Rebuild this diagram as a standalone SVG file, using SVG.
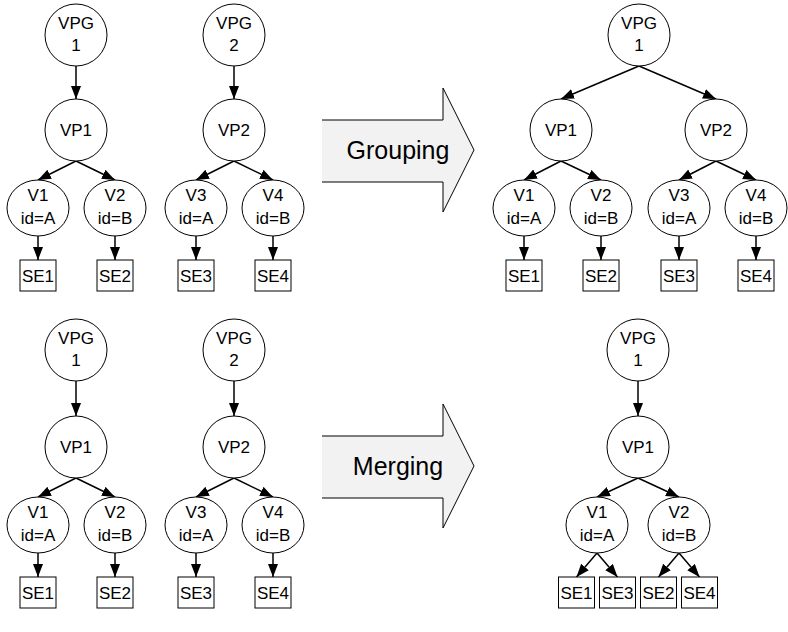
<svg xmlns="http://www.w3.org/2000/svg" width="788" height="632" viewBox="0 0 788 632">
<style>
.n{fill:#fff;stroke:#000;stroke-width:1}
.t{font-family:"Liberation Sans",Arial,sans-serif;font-size:17px;fill:#000;text-anchor:middle}
.big{font-family:"Liberation Sans",Arial,sans-serif;font-size:25px;fill:#000;text-anchor:middle}
.e{fill:none;stroke:#000;stroke-width:1.5;marker-end:url(#ah)}
.af{fill:#f2f2f2;stroke:none}
.as{fill:none;stroke:#000;stroke-width:1}
</style>
<defs>
<marker id="ah" markerUnits="userSpaceOnUse" markerWidth="14" markerHeight="11" refX="13" refY="5" orient="auto">
<path d="M0,0 L13,5 L0,10 z" fill="#000"/>
</marker>
</defs>
<rect width="788" height="632" fill="#fff"/>

<g id="connectors">
<!-- top-left tree 1 -->
<line class="e" x1="76" y1="66" x2="76" y2="99"/>
<line class="e" x1="76" y1="161" x2="38" y2="180"/>
<line class="e" x1="76" y1="161" x2="115" y2="180"/>
<line class="e" x1="38" y1="236" x2="38" y2="260"/>
<line class="e" x1="115" y1="236" x2="115" y2="260"/>
<!-- top-left tree 2 -->
<line class="e" x1="234" y1="66" x2="234" y2="99"/>
<line class="e" x1="234" y1="161" x2="196" y2="180"/>
<line class="e" x1="234" y1="161" x2="273" y2="180"/>
<line class="e" x1="196" y1="236" x2="196" y2="260"/>
<line class="e" x1="273" y1="236" x2="273" y2="260"/>
<!-- top-right grouped -->
<line class="e" x1="639" y1="66" x2="561" y2="99"/>
<line class="e" x1="639" y1="66" x2="716" y2="99"/>
<line class="e" x1="561" y1="161" x2="524" y2="180"/>
<line class="e" x1="561" y1="161" x2="601" y2="180"/>
<line class="e" x1="716" y1="161" x2="679" y2="180"/>
<line class="e" x1="716" y1="161" x2="756" y2="180"/>
<line class="e" x1="524" y1="236" x2="524" y2="260"/>
<line class="e" x1="601" y1="236" x2="601" y2="260"/>
<line class="e" x1="679" y1="236" x2="679" y2="260"/>
<line class="e" x1="756" y1="236" x2="756" y2="260"/>
<!-- bottom-left tree 1 -->
<line class="e" x1="76" y1="381" x2="76" y2="416"/>
<line class="e" x1="76" y1="478" x2="38" y2="497"/>
<line class="e" x1="76" y1="478" x2="115" y2="497"/>
<line class="e" x1="38" y1="553" x2="38" y2="577"/>
<line class="e" x1="115" y1="553" x2="115" y2="577"/>
<!-- bottom-left tree 2 -->
<line class="e" x1="234" y1="381" x2="234" y2="416"/>
<line class="e" x1="234" y1="478" x2="196" y2="497"/>
<line class="e" x1="234" y1="478" x2="273" y2="497"/>
<line class="e" x1="196" y1="553" x2="196" y2="577"/>
<line class="e" x1="273" y1="553" x2="273" y2="577"/>
<!-- bottom-right merged -->
<line class="e" x1="638" y1="381" x2="638" y2="416"/>
<line class="e" x1="638" y1="478" x2="597" y2="497"/>
<line class="e" x1="638" y1="478" x2="679" y2="497"/>
<line class="e" x1="597" y1="553" x2="576.5" y2="577"/>
<line class="e" x1="597" y1="553" x2="617.5" y2="577"/>
<line class="e" x1="679" y1="553" x2="658.5" y2="577"/>
<line class="e" x1="679" y1="553" x2="699.5" y2="577"/>
</g>

<!-- Big arrows -->
<g id="grouping">
<polygon class="af" points="322,120 443,120 443,88 474,150 443,212 443,182 322,182"/>
<polyline class="as" points="322,120 443,120 443,88 474,150 443,212 443,182 322,182"/>
<text class="big" x="398" y="159">Grouping</text>
</g>
<g id="merging">
<polygon class="af" points="322,436 443,436 443,404 474,466 443,528 443,498 322,498"/>
<polyline class="as" points="322,436 443,436 443,404 474,466 443,528 443,498 322,498"/>
<text class="big" x="398" y="475">Merging</text>
</g>

<!-- Top-left tree 1 -->
<g id="tl-vpg1"><circle class="n" cx="76" cy="35" r="31"/><text class="t" x="76" y="29">VPG</text><text class="t" x="76" y="51">1</text></g>
<g id="tl-vp1"><circle class="n" cx="76" cy="130" r="31"/><text class="t" x="76" y="136">VP1</text></g>
<g id="tl-v1"><ellipse class="n" cx="38" cy="208" rx="31" ry="28"/><text class="t" x="38" y="201">V1</text><text class="t" x="38" y="224">id=A</text></g>
<g id="tl-v2"><ellipse class="n" cx="115" cy="208" rx="31" ry="28"/><text class="t" x="115" y="201">V2</text><text class="t" x="115" y="224">id=B</text></g>
<g id="tl-se1"><rect class="n" x="20" y="260" width="36" height="31"/><text class="t" x="38" y="282">SE1</text></g>
<g id="tl-se2"><rect class="n" x="97" y="260" width="36" height="31"/><text class="t" x="115" y="282">SE2</text></g>
<!-- Top-left tree 2 -->
<g id="tl-vpg2"><circle class="n" cx="234" cy="35" r="31"/><text class="t" x="234" y="29">VPG</text><text class="t" x="234" y="51">2</text></g>
<g id="tl-vp2"><circle class="n" cx="234" cy="130" r="31"/><text class="t" x="234" y="136">VP2</text></g>
<g id="tl-v3"><ellipse class="n" cx="196" cy="208" rx="31" ry="28"/><text class="t" x="196" y="201">V3</text><text class="t" x="196" y="224">id=A</text></g>
<g id="tl-v4"><ellipse class="n" cx="273" cy="208" rx="31" ry="28"/><text class="t" x="273" y="201">V4</text><text class="t" x="273" y="224">id=B</text></g>
<g id="tl-se3"><rect class="n" x="178" y="260" width="36" height="31"/><text class="t" x="196" y="282">SE3</text></g>
<g id="tl-se4"><rect class="n" x="255" y="260" width="36" height="31"/><text class="t" x="273" y="282">SE4</text></g>

<!-- Top-right grouped tree -->
<g id="tr-vpg1"><circle class="n" cx="639" cy="35" r="31"/><text class="t" x="639" y="29">VPG</text><text class="t" x="639" y="51">1</text></g>
<g id="tr-vp1"><circle class="n" cx="561" cy="130" r="31"/><text class="t" x="561" y="136">VP1</text></g>
<g id="tr-vp2"><circle class="n" cx="716" cy="130" r="31"/><text class="t" x="716" y="136">VP2</text></g>
<g id="tr-v1"><ellipse class="n" cx="524" cy="208" rx="31" ry="28"/><text class="t" x="524" y="201">V1</text><text class="t" x="524" y="224">id=A</text></g>
<g id="tr-v2"><ellipse class="n" cx="601" cy="208" rx="31" ry="28"/><text class="t" x="601" y="201">V2</text><text class="t" x="601" y="224">id=B</text></g>
<g id="tr-v3"><ellipse class="n" cx="679" cy="208" rx="31" ry="28"/><text class="t" x="679" y="201">V3</text><text class="t" x="679" y="224">id=A</text></g>
<g id="tr-v4"><ellipse class="n" cx="756" cy="208" rx="31" ry="28"/><text class="t" x="756" y="201">V4</text><text class="t" x="756" y="224">id=B</text></g>
<g id="tr-se1"><rect class="n" x="506" y="260" width="36" height="31"/><text class="t" x="524" y="282">SE1</text></g>
<g id="tr-se2"><rect class="n" x="583" y="260" width="36" height="31"/><text class="t" x="601" y="282">SE2</text></g>
<g id="tr-se3"><rect class="n" x="661" y="260" width="36" height="31"/><text class="t" x="679" y="282">SE3</text></g>
<g id="tr-se4"><rect class="n" x="738" y="260" width="36" height="31"/><text class="t" x="756" y="282">SE4</text></g>

<!-- Bottom-left tree 1 -->
<g id="bl-vpg1"><circle class="n" cx="76" cy="350" r="31"/><text class="t" x="76" y="344">VPG</text><text class="t" x="76" y="366">1</text></g>
<g id="bl-vp1"><circle class="n" cx="76" cy="447" r="31"/><text class="t" x="76" y="453">VP1</text></g>
<g id="bl-v1"><ellipse class="n" cx="38" cy="525" rx="31" ry="28"/><text class="t" x="38" y="518">V1</text><text class="t" x="38" y="541">id=A</text></g>
<g id="bl-v2"><ellipse class="n" cx="115" cy="525" rx="31" ry="28"/><text class="t" x="115" y="518">V2</text><text class="t" x="115" y="541">id=B</text></g>
<g id="bl-se1"><rect class="n" x="20" y="577" width="36" height="31"/><text class="t" x="38" y="599">SE1</text></g>
<g id="bl-se2"><rect class="n" x="97" y="577" width="36" height="31"/><text class="t" x="115" y="599">SE2</text></g>
<!-- Bottom-left tree 2 -->
<g id="bl-vpg2"><circle class="n" cx="234" cy="350" r="31"/><text class="t" x="234" y="344">VPG</text><text class="t" x="234" y="366">2</text></g>
<g id="bl-vp2"><circle class="n" cx="234" cy="447" r="31"/><text class="t" x="234" y="453">VP2</text></g>
<g id="bl-v3"><ellipse class="n" cx="196" cy="525" rx="31" ry="28"/><text class="t" x="196" y="518">V3</text><text class="t" x="196" y="541">id=A</text></g>
<g id="bl-v4"><ellipse class="n" cx="273" cy="525" rx="31" ry="28"/><text class="t" x="273" y="518">V4</text><text class="t" x="273" y="541">id=B</text></g>
<g id="bl-se3"><rect class="n" x="178" y="577" width="36" height="31"/><text class="t" x="196" y="599">SE3</text></g>
<g id="bl-se4"><rect class="n" x="255" y="577" width="36" height="31"/><text class="t" x="273" y="599">SE4</text></g>

<!-- Bottom-right merged tree -->
<g id="br-vpg1"><circle class="n" cx="638" cy="350" r="31"/><text class="t" x="638" y="344">VPG</text><text class="t" x="638" y="366">1</text></g>
<g id="br-vp1"><circle class="n" cx="638" cy="447" r="31"/><text class="t" x="638" y="453">VP1</text></g>
<g id="br-v1"><ellipse class="n" cx="597" cy="525" rx="31" ry="28"/><text class="t" x="597" y="518">V1</text><text class="t" x="597" y="541">id=A</text></g>
<g id="br-v2"><ellipse class="n" cx="679" cy="525" rx="31" ry="28"/><text class="t" x="679" y="518">V2</text><text class="t" x="679" y="541">id=B</text></g>
<g id="br-se1"><rect class="n" x="558.5" y="577" width="36" height="31"/><text class="t" x="576.5" y="599">SE1</text></g>
<g id="br-se3"><rect class="n" x="599.5" y="577" width="36" height="31"/><text class="t" x="617.5" y="599">SE3</text></g>
<g id="br-se2"><rect class="n" x="640.5" y="577" width="36" height="31"/><text class="t" x="658.5" y="599">SE2</text></g>
<g id="br-se4"><rect class="n" x="681.5" y="577" width="36" height="31"/><text class="t" x="699.5" y="599">SE4</text></g>
</svg>
